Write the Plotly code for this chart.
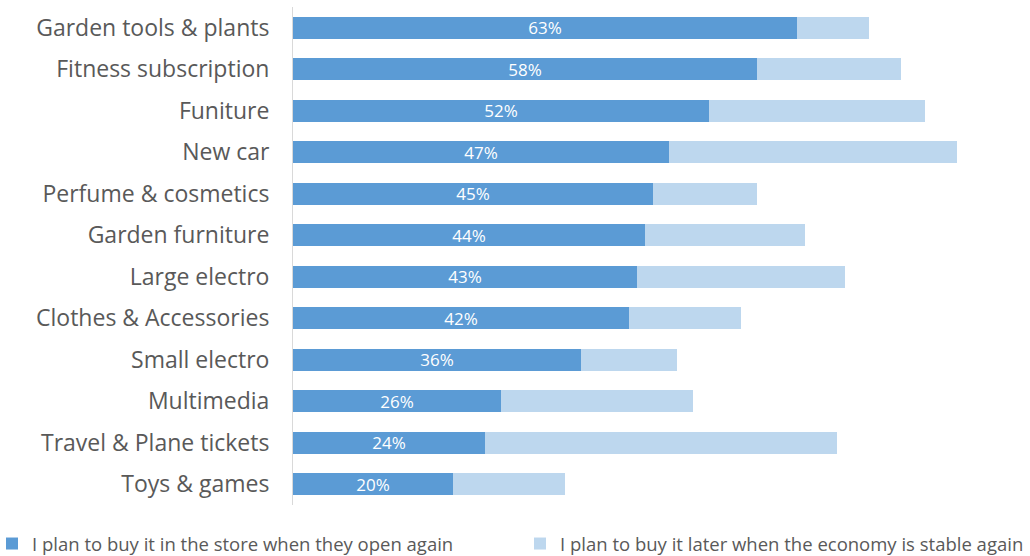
import plotly.graph_objects as go

categories = ["Garden tools & plants", "Fitness subscription", "Funiture", "New car",
              "Perfume & cosmetics", "Garden furniture", "Large electro",
              "Clothes & Accessories", "Small electro", "Multimedia",
              "Travel & Plane tickets", "Toys & games"]
store_open = [63, 58, 52, 47, 45, 44, 43, 42, 36, 26, 24, 20]
economy_stable = [9, 18, 27, 36, 13, 20, 26, 14, 12, 24, 44, 14]
series_names = ["I plan to buy it in the store when they open again",
                "I plan to buy it later when the economy is stable again"]

fig = go.Figure()
fig.add_trace(go.Bar(
    y=categories, x=store_open, orientation="h", name=series_names[0],
    marker=dict(color="#5B9BD5", line=dict(width=0)),
    text=[f"{v}%" for v in store_open], textposition="inside",
    insidetextanchor="middle", textangle=0, constraintext="none",
    textfont=dict(color="white", size=17, family="Open Sans"),
    legend="legend",
))
fig.add_trace(go.Bar(
    y=categories, x=economy_stable, orientation="h", name=series_names[1],
    marker=dict(color="#BDD7EE", line=dict(width=0)),
    legend="legend2",
))

legend_common = dict(orientation="h", yref="container",
                     y=(556 - 544) / 556, yanchor="middle", xanchor="left",
                     font=dict(size=18.5, color="#595959"),
                     bgcolor="rgba(0,0,0,0)")

fig.update_layout(
    barmode="stack",
    width=1030, height=556,
    margin=dict(l=293, r=17, t=7, b=51, autoexpand=False),
    paper_bgcolor="white", plot_bgcolor="white",
    bargap=0.48,
    font=dict(family="Open Sans", color="#595959"),
    xaxis=dict(range=[0, 90], visible=False, showgrid=False),
    yaxis=dict(autorange="reversed", showgrid=False, showline=True,
               linecolor="#D9D9D9", linewidth=1,
               tickfont=dict(size=23, color="#595959", family="Open Sans"),
               ticks="", ticklabelstandoff=18),
    legend=dict(x=(-8 - 293) / 720, xref="paper", **legend_common),
    legend2=dict(x=(560 - 40) / 1030, xref="container", **legend_common),
    showlegend=True,
)

fig.write_html("out.html")
